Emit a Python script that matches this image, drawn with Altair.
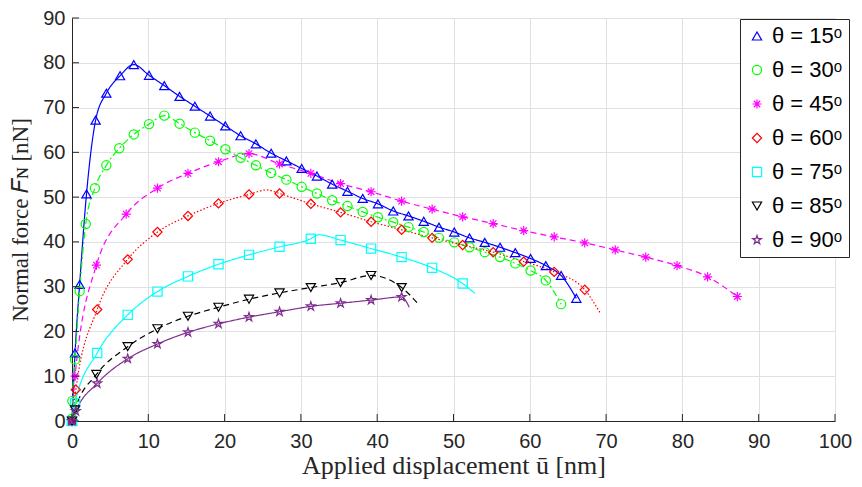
import altair as alt
import pandas as pd

labels = ["θ = 15ᵒ", "θ = 30ᵒ", "θ = 45ᵒ", "θ = 60ᵒ", "θ = 75ᵒ", "θ = 85ᵒ", "θ = 90ᵒ"]
colors = ["#0000FF", "#00FF00", "#FF00FF", "#FF0000", "#00FFFF", "#000000", "#7E2F8E"]
dashes = [[1, 0], [7, 3, 2, 3], [6, 4], [1.5, 2], [1, 0], [6, 4], [1, 0]]
asterisk = "M-1,0L1,0M0,-1L0,1M-0.7,-0.7L0.7,0.7M-0.7,0.7L0.7,-0.7"
pentagram = ("M0,-1L0.2245,-0.309L0.951,-0.309L0.3633,0.118L0.5878,0.809L0,0.382"
             "L-0.5878,0.809L-0.3633,0.118L-0.951,-0.309L-0.2245,-0.309Z")
shapes = ["triangle-up", "circle", asterisk, "diamond", "square", "triangle-down", pentagram]

# marker points
u15 = [0, 0.4, 1.0, 1.9, 3.1, 4.5, 6.3, 8.1, 10.1, 12.1, 14.1, 16.1, 18.1, 20.1, 22.1, 24.1, 26.1, 28.1,
       30.1, 32.1, 34.1, 36.1, 38.1, 40.1, 42.1, 44.1, 46.1, 48.1, 50.1, 52.1, 54.1, 56.1, 58.1, 60.1,
       62.1, 64.1, 66.1]
f15 = [0, 15.2, 30.5, 50.7, 67.2, 73.2, 77.1, 79.6, 77.2, 74.9, 72.5, 70.3, 68.1, 65.9, 63.7, 61.9, 59.8,
       58.1, 56.4, 54.7, 52.9, 51.3, 49.7, 48.5, 46.9, 45.8, 44.6, 43.3, 42.2, 40.9, 39.9, 38.8, 37.6,
       36.3, 34.7, 32.5, 27.4]
u30 = [0, 0.05, 0.4, 1.0, 1.8, 3.0, 4.5, 6.2, 8.1, 10.1, 12.1, 14.1, 16.1, 18.1, 20.1, 22.1, 24.1, 26.1,
       28.1, 30.1, 32.1, 34.1, 36.1, 38.1, 40.1, 42.1, 44.1, 46.1, 48.1, 50.1, 52.1, 54.1, 56.1, 58.1,
       60.1, 62.1, 64.1]
f30 = [0.5, 4.5, 13.7, 29.0, 44.0, 52.0, 57.1, 60.9, 64.0, 66.3, 68.2, 66.4, 64.4, 62.6, 60.7, 58.8,
       57.1, 55.4, 53.9, 52.3, 50.8, 49.3, 48.0, 46.7, 45.5, 44.4, 43.3, 42.2, 40.9, 39.9, 38.8, 37.7,
       36.6, 35.2, 33.6, 31.4, 26.1]
u45 = [0, 0.4, 3.2, 7.1, 11.2, 15.2, 19.2, 23.2, 27.2, 31.3, 35.2, 39.2, 43.2, 47.2, 51.2, 55.2, 59.2,
       63.2, 67.2, 71.2, 75.2, 79.3, 83.3, 87.2]
f45 = [0, 10.0, 34.8, 46.2, 52.0, 55.3, 57.9, 59.7, 57.4, 55.3, 53.0, 51.2, 49.1, 47.3, 45.6, 44.1,
       42.5, 41.1, 39.8, 38.2, 36.6, 34.7, 32.2, 27.8]
u60 = [0, 0.5, 3.3, 7.3, 11.2, 15.2, 19.2, 23.2, 27.2, 31.3, 35.2, 39.2, 43.2, 47.2, 51.2, 55.2, 59.2,
       63.2, 67.2]
f60 = [0, 7.0, 24.9, 36.1, 42.2, 45.8, 48.6, 50.6, 50.8, 48.5, 46.6, 44.5, 42.7, 40.9, 39.3, 37.7,
       35.6, 33.3, 29.3]
u75 = [0, 0.4, 3.3, 7.3, 11.2, 15.2, 19.2, 23.2, 27.2, 31.3, 35.2, 39.2, 43.2, 47.2, 51.2]
f75 = [0, 4.0, 15.2, 23.7, 28.9, 32.3, 35.0, 37.1, 38.9, 40.7, 40.4, 38.5, 36.6, 34.2, 30.7]
u85 = [0, 0.4, 3.2, 7.3, 11.2, 15.2, 19.2, 23.2, 27.2, 31.3, 35.2, 39.2, 43.2]
f85 = [0, 2.5, 10.4, 16.6, 20.6, 23.4, 25.4, 27.2, 28.6, 29.8, 30.9, 32.5, 29.8]
u90 = [0, 0.5, 3.3, 7.3, 11.2, 15.2, 19.2, 23.2, 27.2, 31.3, 35.2, 39.2, 43.2]
f90 = [0, 2.2, 8.4, 13.9, 17.2, 19.8, 21.7, 23.2, 24.4, 25.6, 26.3, 27.0, 27.7]

# extra curve points without a marker (peaks / curve ends)
extra_u = {0: [], 1: [], 2: [], 3: [25.5, 69.2], 4: [32.3, 52.8], 5: [45.3], 6: [44.2]}
extra_f = {0: [], 1: [], 2: [], 3: [51.6, 24.2], 4: [41.6, 28.5], 5: [26.3], 6: [25.4]}

x_ticks = [0, 10, 20, 30, 40, 50, 60, 70, 80, 90, 100]
y_ticks = [0, 10, 20, 30, 40, 50, 60, 70, 80, 90]

us = [u15, u30, u45, u60, u75, u85, u90]
fs = [f15, f30, f45, f60, f75, f85, f90]

mrows, lrows = [], []
for i, (uu, ff) in enumerate(zip(us, fs)):
    for a, b in zip(uu, ff):
        mrows.append({"u": a, "F": b, "s": labels[i], "o": i})
        lrows.append({"u": a, "F": b, "s": labels[i], "o": i})
    for a, b in zip(extra_u[i], extra_f[i]):
        lrows.append({"u": a, "F": b, "s": labels[i], "o": i})
mdf = pd.DataFrame(mrows)
ldf = pd.DataFrame(lrows).sort_values(["o", "u"])

W, H = 763, 403
xs = alt.Scale(domain=[0, 100], nice=False)
ys = alt.Scale(domain=[0, 90], nice=False)
xaxis = alt.Axis(values=x_ticks, title="Applied displacement ū [nm]", ticks=False, labelFlush=False,
                 labelPadding=10, titlePadding=1, titleFontSize=26)
yaxis = alt.Axis(values=y_ticks, title="Normal force 𝐹ɴ [nN]", ticks=False, labelFlush=False,
                 labelPadding=7, titlePadding=10, titleFontSize=23)

cscale = alt.Scale(domain=labels, range=colors)
legend = alt.Legend(title=None, orient="none", legendX=668, legendY=1, strokeColor="#262626",
                    fillColor="white", padding=6, rowPadding=12, symbolSize=85,
                    symbolStrokeWidth=1.2, labelFontSize=22, labelFont="Liberation Sans",
                    labelColor="#000000", labelOffset=4)

lines = alt.Chart(ldf).mark_line(strokeWidth=1.2, interpolate="monotone").encode(
    x=alt.X("u:Q", scale=xs, axis=xaxis),
    y=alt.Y("F:Q", scale=ys, axis=yaxis),
    color=alt.Color("s:N", scale=cscale, legend=None),
    strokeDash=alt.StrokeDash("s:N", scale=alt.Scale(domain=labels, range=dashes), legend=None),
    detail="s:N",
)

points = alt.Chart(mdf).mark_point(filled=False, strokeWidth=1.2, size=85, opacity=1).encode(
    x=alt.X("u:Q", scale=xs),
    y=alt.Y("F:Q", scale=ys),
    color=alt.Color("s:N", scale=cscale, legend=legend),
    shape=alt.Shape("s:N", scale=alt.Scale(domain=labels, range=shapes), legend=legend),
)

ytk = alt.Chart(pd.DataFrame({"F": y_ticks})).mark_rule(color="#262626", strokeWidth=1).encode(
    y=alt.Y("F:Q", scale=ys), x=alt.value(0), x2=alt.value(7))
xtk = alt.Chart(pd.DataFrame({"u": x_ticks})).mark_rule(color="#262626", strokeWidth=1).encode(
    x=alt.X("u:Q", scale=xs), y=alt.value(H), y2=alt.value(H - 7))

chart = alt.layer(lines, points, ytk, xtk).resolve_legend(
    color="independent", shape="independent", strokeDash="independent"
).properties(
    width=W, height=H,
    autosize=alt.AutoSizeParams(type="none"),
    padding={"left": 64, "top": 10, "right": 18, "bottom": 58},
).configure_view(stroke=None).configure_axis(
    gridColor="#E0E0E0", gridWidth=1, domainColor="#262626", domainWidth=1,
    labelFont="Liberation Sans", labelFontSize=20, labelColor="#262626",
    titleFont="Liberation Serif", titleFontWeight="normal", titleColor="#262626",
)

chart.save("out.html", embed_options={"renderer": "svg", "actions": False})
